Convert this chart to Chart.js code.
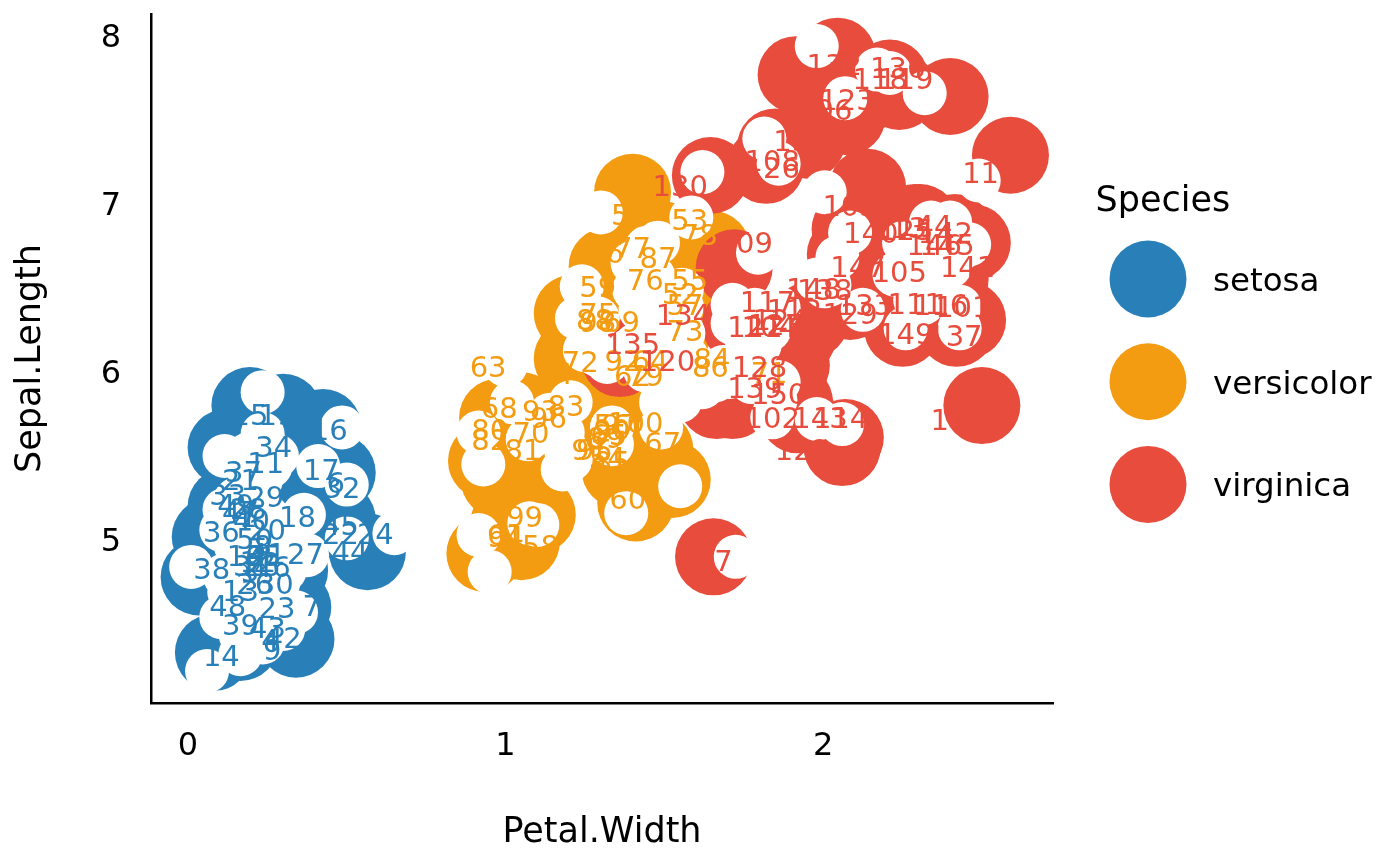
<!DOCTYPE html>
<html>
<head>
<meta charset="utf-8">
<style>html,body{margin:0;padding:0;background:#fff}canvas{display:block}</style>
<script src="https://cdn.jsdelivr.net/npm/chart.js@4"></script>
</head>
<body>
<canvas id="c" width="1400" height="866" style="width:1400px;height:866px"></canvas>
<script>
const speciesNames = ['setosa','versicolor','virginica'];
const speciesColors = ['#2980B9','#F39C12','#E74C3C'];
const xTicks = [0,1,2];
const yTicks = [5,6,7,8];

const setosaBigX = [.195,.30,.425,.47,.12,.47,.565,.035,.07,.08,.34,.33,.165,.2,.22,.18,.2,.2,.38,.28,.22,.2,.12,.22,.2,.1,.3,.28,.3,.22,.38,.2,.22,.22,.2,.2,.2,.18,.38,.12,.2,.2,.18,.2,.1,.22,.3,.32,.22,.2];
const setosaBigY = [5.80,5.76,5.67,5.40,5.55,5.12,4.93,4.78,5.02,4.33,4.41,4.60,4.39,5.1,4.9,4.7,4.6,5.0,5.4,4.6,5.02,4.45,4.9,5.4,4.8,4.8,5.1,5.68,5.12,5.38,5.1,4.62,4.82,5.02,5.2,5.22,4.7,4.82,5.35,5.2,5.5,4.92,5.02,5.48,4.9,5.08,5.0,4.82,5.3,5.05];
const versicolorBigX = [.935,1.05,1.10,.94,.975,1.01,1.41,1.525,1.47,1.37,1.38,1.40,1.32,1.21,1.21,1.65,1.53,1.06,1.01,1.05,.98,1.11,1.17,1.235,1.30,1.30,1.36,1.42,1.455,1.42,1.05,1.36,1.42,1.455,1.49,1.42,1.39,1.36,1.30,1.27,1.33,1.42,1.49,1.55,1.58,1.55,1.455,1.39,1.30,1.49];
const versicolorBigY = [4.92,4.99,5.15,5.47,5.73,5.10,5.22,5.36,5.54,5.72,5.48,7.07,6.63,6.35,6.08,6.73,6.25,5.54,5.42,5.24,5.36,5.60,5.60,5.66,5.83,5.60,5.42,5.60,5.36,5.30,5.77,6.43,6.55,6.73,6.79,6.85,6.91,6.67,6.37,6.19,6.19,6.25,6.31,6.43,6.55,6.67,6.43,6.13,6.07,6.07];
const virginicaBigX = [1.655,2.045,1.915,2.21,2.24,2.40,2.59,2.075,1.85,1.95,1.82,1.645,2.14,2.305,2.29,2.415,2.47,2.455,2.42,2.25,2.50,1.72,1.715,2.07,2.06,1.92,1.91,1.92,1.90,2.07,2.085,1.36,1.74,1.665,2.18,2.18,2.24,2.335,2.37,2.40,2.02,2.115,1.99,2.13,1.83,1.80,1.83,2.115,1.96,2.085];
const virginicaBigY = [4.90,7.88,7.77,7.75,7.67,7.64,7.29,7.52,7.34,7.38,7.23,7.17,7.10,6.89,6.89,6.83,6.77,6.31,6.26,6.26,5.80,6.62,5.83,5.61,5.55,6.21,5.82,5.745,6.04,6.70,6.42,6.08,6.28,5.83,6.67,6.43,6.55,6.67,6.49,6.55,7.68,7.68,7.56,7.65,6.19,6.01,5.89,6.67,6.31,6.85];

const setosaWhiteX = [.235,.485,.115,.41,.50,.235,.28,.26,.365,.115,.105,.225,.25,.65,.50,.375,.01,.195,.195,.27,.13,.105,.34,.285,.30,.235,.165,.06,.205,.245,.195,.165,.18,.15,.32,.23,.195,.165,.115,.23,.29,.18,.26,.23,.19,.26,.305,.21,.15,.26];
const setosaWhiteY = [5.88,5.67,5.50,5.44,5.33,5.63,5.50,5.44,5.15,5.18,5.06,5.24,5.14,5.04,5.01,4.91,4.84,4.92,5.00,4.94,4.69,4.54,4.57,4.75,4.47,4.39,4.32,4.22,4.53,4.64,4.70,4.44,5.09,5.24,5.0,5.36,5.39,4.82,4.79,4.85,5.06,4.58,4.50,4.76,5.51,5.0,4.82,5.18,4.97,4.64];
const versicolorWhiteX = [1.0,1.02,.915,.93,1.07,1.18,1.205,1.14,1.18,1.335,1.335,1.49,1.49,1.38,1.55,1.075,1.10,.915,.95,1.30,1.585,1.48,1.445,1.40,1.405,1.465,1.555,1.555,1.56,1.24,1.225,1.29,1.25,1.32,1.39,1.48,1.57,1.495,1.645,1.705,1.49,1.425,1.50,1.44,1.55,1.29,1.41,1.19,1.205,1.55];
const versicolorWhiteY = [6.04,5.82,5.64,5.45,5.60,5.42,5.82,5.745,5.64,5.67,5.57,5.67,5.82,5.16,5.32,5.10,5.09,5.03,4.81,6.95,6.92,6.77,6.74,6.65,6.49,6.57,6.49,6.39,6.23,6.51,6.32,6.32,6.13,6.06,6.13,6.13,6.09,5.85,5.95,5.97,6.37,6.37,6.25,6.01,5.98,6.10,6.16,5.54,5.48,5.83];
const virginicaWhiteX = [1.795,1.715,1.715,1.86,1.83,1.685,1.62,1.66,1.86,1.775,1.84,1.98,2.06,2.085,2.005,2.045,2.005,2.02,1.98,2.125,2.225,2.26,2.315,2.43,2.43,2.255,2.34,2.46,2.40,2.40,2.315,2.365,1.98,2.07,2.17,2.21,2.32,2.49,1.815,1.86,1.62,1.725,1.755,1.785,1.80,1.74,1.85,2.29,2.37,2.43];
const virginicaWhiteY = [6.71,6.40,6.29,6.38,6.25,6.03,5.91,5.95,5.94,5.94,5.73,5.72,5.69,6.83,7.07,6.68,6.51,6.52,6.55,6.37,6.58,6.26,6.41,6.26,6.39,6.77,6.89,6.76,6.89,6.63,6.67,6.53,7.94,7.63,7.80,7.78,7.66,7.14,7.39,7.24,7.19,4.90,6.22,6.37,6.16,6.07,5.83,6.43,6.73,6.73];

const setosaTextX = [.19,.22,.195,.26,.21,.465,.39,.235,.265,.18,.245,.22,.165,.105,.195,.445,.42,.345,.28,.25,.165,.48,.28,.59,.235,.21,.37,.19,.245,.275,.20,.485,.125,.27,.235,.105,.175,.075,.165,.20,.25,.30,.25,.51,.48,.265,.165,.125,.15,.21];
const setosaTextY = [5.14,4.91,4.81,4.41,4.95,5.34,4.61,4.97,4.35,4.91,5.46,4.87,4.70,4.31,5.745,5.66,5.42,5.14,5.745,5.06,5.36,5.04,4.60,5.04,4.85,4.74,4.92,5.19,5.26,4.74,4.85,5.31,5.27,5.555,4.91,5.05,5.41,4.83,4.50,5.12,4.92,4.42,4.48,4.93,5.09,4.84,5.17,4.61,5.21,5.01];
const versicolorTextX = [1.39,1.55,1.58,1.32,1.58,1.335,1.565,1.11,1.29,1.385,1.0,1.40,.945,1.455,1.325,1.315,1.495,.98,1.365,1.08,1.83,1.235,1.565,1.155,1.29,1.44,1.40,1.61,1.44,.95,1.055,.95,1.19,1.65,1.335,1.645,1.48,1.28,1.315,1.335,1.265,1.37,1.11,1.0,1.28,1.135,1.36,1.29,1.06,1.41];
const versicolorTextY = [6.94,6.47,6.91,5.49,6.55,5.69,6.40,4.97,6.51,5.25,5.03,5.98,6.03,6.07,5.63,6.71,5.58,5.79,6.30,5.64,6.00,6.06,6.25,5.99,6.35,6.55,6.74,6.82,5.98,5.66,5.54,5.60,5.80,6.08,5.47,6.03,6.68,6.31,5.61,5.66,5.54,6.07,5.77,5.02,5.54,5.73,5.69,6.30,5.14,5.70];
const virginicaTextX = [2.44,1.84,2.085,1.83,2.24,2.005,1.628,1.84,1.755,2.525,2.29,1.91,2.24,2.055,2.425,2.37,1.825,2.18,2.26,1.51,1.785,1.935,2.075,1.865,2.26,1.84,1.85,1.80,2.085,1.55,1.93,2.035,2.13,1.56,1.40,2.235,2.415,2.005,1.785,2.15,2.455,2.385,1.99,2.32,2.39,2.35,2.11,1.97,2.26,1.86];
const virginicaTextY = [6.39,5.73,6.99,6.27,6.60,7.56,4.88,7.26,6.77,7.19,6.41,6.37,6.86,5.73,5.72,6.40,6.42,7.75,7.75,6.07,6.27,5.54,7.62,6.31,6.85,7.22,6.28,6.03,6.35,7.11,7.38,7.83,6.40,6.34,6.17,7.81,6.22,6.49,5.91,6.83,6.63,6.83,5.73,6.875,6.76,6.76,6.63,6.50,6.23,5.875];

const zip = (xs, ys) => xs.map((x, i) => ({x, y: ys[i]}));
const bigDs = (i, xs, ys, order) => ({label: speciesNames[i], data: zip(xs, ys), order, backgroundColor: speciesColors[i], borderWidth: 0, pointRadius: 38.5, clip: false});
const whiteDs = (xs, ys) => ({label: 'white', data: zip(xs, ys), order: 1, backgroundColor: '#fff', borderWidth: 0, pointRadius: 22, clip: false});
const textDs = (i, xs, ys, first) => ({label: 'text', data: zip(xs, ys), order: 0, pointRadius: 0, clip: false, textColor: speciesColors[i], firstLabel: first});

const font = 'DejaVu Sans';
const plotTop = 14;
const fitPlotPlugin = {
  id: 'fitPlot',
  afterLayout(chart) {
    const y = chart.scales.y;
    chart.chartArea.top = plotTop;
    chart.chartArea.height = chart.chartArea.bottom - plotTop;
    y.top = plotTop;
    y.height = chart.chartArea.bottom - plotTop;
    y.configure();
  }
};
const labelsPlugin = {
  id: 'labels',
  afterDatasetsDraw(chart) {
    const {ctx, scales: {x, y}} = chart;
    ctx.save();
    ctx.font = '29px "' + font + '"';
    ctx.textAlign = 'center';
    ctx.textBaseline = 'middle';
    chart.data.datasets.forEach(ds => {
      if (ds.label !== 'text') return;
      ctx.fillStyle = ds.textColor;
      ds.data.forEach((p, i) => ctx.fillText(String(ds.firstLabel + i), x.getPixelForValue(p.x), y.getPixelForValue(p.y) + 3));
    });
    ctx.restore();
  }
};
const legendPlugin = {
  id: 'speciesLegend',
  afterDraw(chart) {
    const {ctx} = chart;
    ctx.save();
    ctx.fillStyle = '#000';
    ctx.textAlign = 'left';
    ctx.textBaseline = 'alphabetic';
    ctx.font = '35px "' + font + '"';
    ctx.fillText('Species', 1095.5, 211);
    speciesNames.forEach((n, i) => {
      const cy = 279 + i * 102.7;
      ctx.fillStyle = speciesColors[i];
      ctx.beginPath();
      ctx.arc(1148, cy, 38.5, 0, Math.PI * 2);
      ctx.fill();
      ctx.fillStyle = '#000';
      ctx.font = '32.5px "' + font + '"';
      ctx.fillText(n, 1213, cy + 12);
    });
    ctx.restore();
  }
};

new Chart(document.getElementById('c'), {
  type: 'scatter',
  data: {datasets: [
    textDs(0, setosaTextX, setosaTextY, 1),
    textDs(1, versicolorTextX, versicolorTextY, 51),
    textDs(2, virginicaTextX, virginicaTextY, 101),
    whiteDs(setosaWhiteX, setosaWhiteY),
    whiteDs(versicolorWhiteX, versicolorWhiteY),
    whiteDs(virginicaWhiteX, virginicaWhiteY),
    bigDs(2, virginicaBigX, virginicaBigY, 2),
    bigDs(1, versicolorBigX, versicolorBigY, 3),
    bigDs(0, setosaBigX, setosaBigY, 4)
  ]},
  options: {
    responsive: false,
    animation: false,
    devicePixelRatio: 1,
    layout: {padding: {left: 0, top: 14, right: 347, bottom: 0}},
    plugins: {legend: {display: false}, tooltip: {enabled: false}},
    scales: {
      x: {
        type: 'linear', min: -0.1165, max: 2.724,
        afterBuildTicks: s => { s.ticks = xTicks.map(v => ({value: v})); },
        afterFit: s => { s.height = 163; s.paddingLeft = 0; s.paddingRight = 0; },
        grid: {display: false},
        border: {display: true, color: '#000', width: 2.5},
        ticks: {color: '#000', font: {family: font, size: 32}, padding: 16, maxRotation: 0},
        title: {display: true, text: 'Petal.Width', color: '#000', font: {family: font, size: 35}, padding: {top: 0, bottom: 12}}
      },
      y: {
        type: 'linear', min: 4.0298, max: 8.131,
        afterBuildTicks: s => { s.ticks = yTicks.map(v => ({value: v})); },
        afterFit: s => { s.width = 151; s.paddingTop = 0; s.paddingBottom = 0; },
        grid: {display: false},
        border: {display: true, color: '#000', width: 2.5},
        ticks: {color: '#000', font: {family: font, size: 32}, padding: 22, labelOffset: 3},
        title: {display: true, text: 'Sepal.Length', color: '#000', font: {family: font, size: 35}, padding: {top: 10, bottom: 0}}
      }
    }
  },
  plugins: [fitPlotPlugin, labelsPlugin, legendPlugin]
});
</script>
</body>
</html>
